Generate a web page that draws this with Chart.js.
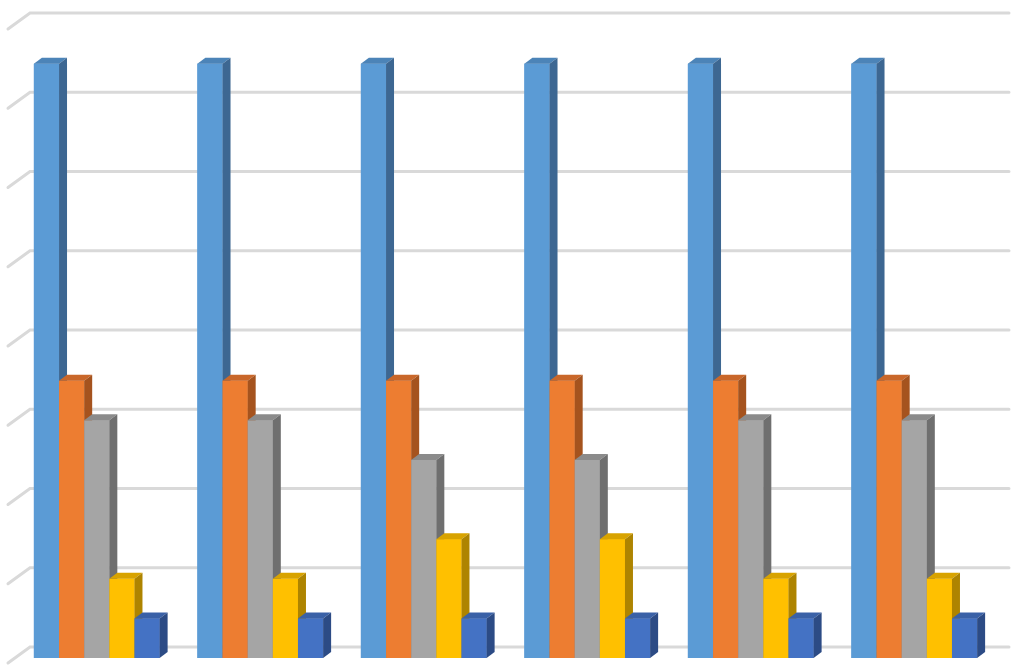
<!DOCTYPE html>
<html>
<head>
<meta charset="utf-8">
<script src="https://cdn.jsdelivr.net/npm/chart.js@4.4.1/dist/chart.umd.min.js"></script>
<style>
  html, body { margin: 0; padding: 0; background: #ffffff; }
  #wrap { width: 1023px; height: 672px; }
</style>
</head>
<body>
<div id="wrap"><canvas id="barChart3d" width="1023" height="672"></canvas></div>
<script>
// chart values
const categories = ['1', '2', '3', '4', '5', '6'];
const series1 = [7.5, 7.5, 7.5, 7.5, 7.5, 7.5];
const series2 = [3.5, 3.5, 3.5, 3.5, 3.5, 3.5];
const series3 = [3, 3, 2.5, 2.5, 3, 3];
const series4 = [1, 1, 1.5, 1.5, 1, 1];
const series5 = [0.5, 0.5, 0.5, 0.5, 0.5, 0.5];
const yTicks = [0, 1, 2, 3, 4, 5, 6, 7, 8];

// front / top / side colours per series
const faceColors = [
  { front: '#5B9BD5', top: '#4C84B8', side: '#3D6792' },
  { front: '#ED7D31', top: '#C9672A', side: '#A5531E' },
  { front: '#A5A5A5', top: '#8B8B8B', side: '#6F6F6F' },
  { front: '#FFC000', top: '#D8A300', side: '#AE8400' },
  { front: '#4472C4', top: '#3A61A7', side: '#2C4B85' }
];

const depthX = 8;
const depthY = 6;
const wallX = 22;   // back wall offset of the floor
const wallY = 11;

// back wall gridlines with a slanted floor segment at the left
const wallGrid = {
  id: 'wallGrid',
  beforeDatasetsDraw(chart) {
    const ctx = chart.ctx;
    const yScale = chart.scales.y;
    const right = chart.chartArea.right + 13;
    ctx.save();
    ctx.strokeStyle = '#D9D9D9';
    ctx.lineWidth = 3;
    ctx.lineCap = 'round';
    yTicks.forEach(v => {
      const y = yScale.getPixelForValue(v) - wallY;
      ctx.beginPath();
      ctx.moveTo(8, y + 16);
      ctx.lineTo(8 + wallX, y);
      ctx.lineTo(right, y);
      ctx.stroke();
    });
    ctx.restore();
  }
};

// redraw every bar left to right as a little box: front, top, right side
const barFaces = {
  id: 'barFaces',
  afterDatasetsDraw(chart) {
    const ctx = chart.ctx;
    ctx.save();
    for (let i = 0; i < chart.data.datasets.length; i++) {
      const col = faceColors[i];
      chart.getDatasetMeta(i).data.forEach(bar => {
        const p = bar.getProps(['x', 'y', 'base', 'width'], true);
        const l = p.x - p.width / 2;
        const r = p.x + p.width / 2;
        const t = p.y;
        const b = p.base;

        ctx.fillStyle = col.front;
        ctx.fillRect(l, t, r - l, b - t);

        ctx.fillStyle = col.top;
        ctx.beginPath();
        ctx.moveTo(l, t);
        ctx.lineTo(l + depthX, t - depthY);
        ctx.lineTo(r + depthX, t - depthY);
        ctx.lineTo(r, t);
        ctx.closePath();
        ctx.fill();

        ctx.fillStyle = col.side;
        ctx.beginPath();
        ctx.moveTo(r, t);
        ctx.lineTo(r + depthX, t - depthY);
        ctx.lineTo(r + depthX, b - depthY);
        ctx.lineTo(r, b);
        ctx.closePath();
        ctx.fill();
      });
    }
    ctx.restore();
  }
};

const allSeries = [series1, series2, series3, series4, series5];

const ctx = document.getElementById('barChart3d').getContext('2d');
new Chart(ctx, {
  type: 'bar',
  data: {
    labels: categories,
    datasets: allSeries.map((vals, i) => ({
      label: 'Series ' + (i + 1),
      data: vals,
      backgroundColor: faceColors[i].front,
      borderWidth: 0,
      barPercentage: 1.0,
      categoryPercentage: 0.769
    }))
  },
  options: {
    responsive: false,
    animation: false,
    layout: {
      padding: { left: 15, right: 27, top: 24, bottom: 14 }
    },
    scales: {
      x: { display: false },
      y: {
        display: false,
        min: 0,
        max: 8,
        ticks: { stepSize: 1 }
      }
    },
    plugins: {
      legend: { display: false },
      tooltip: { enabled: false }
    }
  },
  plugins: [wallGrid, barFaces]
});
</script>
</body>
</html>
